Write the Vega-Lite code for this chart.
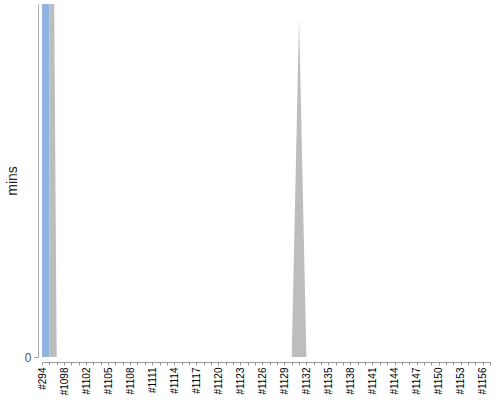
{
  "$schema": "https://vega.github.io/schema/vega-lite/v6.json",
  "autosize": {"type": "none"},
  "padding": {"left": 42, "top": 4, "right": 10, "bottom": 43},
  "width": 448,
  "height": 353,
  "background": "white",
  "config": {"view": {"stroke": null}, "font": "Liberation Sans"},
  "data": {"values": [
    {"build": "#294", "success": 100000, "aborted": 0},
    {"build": "#1096", "success": 0, "aborted": 300},
    {"build": "#1097", "success": 0, "aborted": 0},
    {"build": "#1098", "success": 0, "aborted": 0},
    {"build": "#1099", "success": 0, "aborted": 0},
    {"build": "#1101", "success": 0, "aborted": 0},
    {"build": "#1102", "success": 0, "aborted": 0},
    {"build": "#1103", "success": 0, "aborted": 0},
    {"build": "#1104", "success": 0, "aborted": 0},
    {"build": "#1105", "success": 0, "aborted": 0},
    {"build": "#1106", "success": 0, "aborted": 0},
    {"build": "#1107", "success": 0, "aborted": 0},
    {"build": "#1108", "success": 0, "aborted": 0},
    {"build": "#1109", "success": 0, "aborted": 0},
    {"build": "#1110", "success": 0, "aborted": 0},
    {"build": "#1111", "success": 0, "aborted": 0},
    {"build": "#1112", "success": 0, "aborted": 0},
    {"build": "#1113", "success": 0, "aborted": 0},
    {"build": "#1114", "success": 0, "aborted": 0},
    {"build": "#1115", "success": 0, "aborted": 0},
    {"build": "#1116", "success": 0, "aborted": 0},
    {"build": "#1117", "success": 0, "aborted": 0},
    {"build": "#1118", "success": 0, "aborted": 0},
    {"build": "#1119", "success": 0, "aborted": 0},
    {"build": "#1120", "success": 0, "aborted": 0},
    {"build": "#1121", "success": 0, "aborted": 0},
    {"build": "#1122", "success": 0, "aborted": 0},
    {"build": "#1123", "success": 0, "aborted": 0},
    {"build": "#1124", "success": 0, "aborted": 0},
    {"build": "#1125", "success": 0, "aborted": 0},
    {"build": "#1126", "success": 0, "aborted": 0},
    {"build": "#1127", "success": 0, "aborted": 0},
    {"build": "#1128", "success": 0, "aborted": 0},
    {"build": "#1129", "success": 0, "aborted": 0},
    {"build": "#1130", "success": 0, "aborted": 0},
    {"build": "#1131", "success": 0, "aborted": 96},
    {"build": "#1132", "success": 0, "aborted": 0},
    {"build": "#1133", "success": 0, "aborted": 0},
    {"build": "#1134", "success": 0, "aborted": 0},
    {"build": "#1135", "success": 0, "aborted": 0},
    {"build": "#1136", "success": 0, "aborted": 0},
    {"build": "#1137", "success": 0, "aborted": 0},
    {"build": "#1138", "success": 0, "aborted": 0},
    {"build": "#1139", "success": 0, "aborted": 0},
    {"build": "#1140", "success": 0, "aborted": 0},
    {"build": "#1141", "success": 0, "aborted": 0},
    {"build": "#1142", "success": 0, "aborted": 0},
    {"build": "#1143", "success": 0, "aborted": 0},
    {"build": "#1144", "success": 0, "aborted": 0},
    {"build": "#1145", "success": 0, "aborted": 0},
    {"build": "#1146", "success": 0, "aborted": 0},
    {"build": "#1147", "success": 0, "aborted": 0},
    {"build": "#1148", "success": 0, "aborted": 0},
    {"build": "#1149", "success": 0, "aborted": 0},
    {"build": "#1150", "success": 0, "aborted": 0},
    {"build": "#1151", "success": 0, "aborted": 0},
    {"build": "#1152", "success": 0, "aborted": 0},
    {"build": "#1153", "success": 0, "aborted": 0},
    {"build": "#1154", "success": 0, "aborted": 0},
    {"build": "#1155", "success": 0, "aborted": 0},
    {"build": "#1156", "success": 0, "aborted": 0},
    {"build": "#1157", "success": 0, "aborted": 0}
  ]},
  "transform": [{"fold": ["success", "aborted"], "as": ["status", "mins"]}],
  "mark": {"type": "area", "clip": true, "interpolate": "linear"},
  "encoding": {
    "x": {
      "field": "build", "type": "nominal", "sort": null,
      "scale": {"type": "point", "padding": 0},
      "axis": {
        "title": null, "offset": 5, "labelAngle": -90, "labelFontSize": 10,
        "labelColor": "#000", "labelPadding": 2, "tickSize": 3, "tickColor": "#999",
        "domainColor": "#999", "labelOverlap": false, "grid": false,
        "labelExpr": "indexof(['#294','#1098','#1102','#1105','#1108','#1111','#1114','#1117','#1120','#1123','#1126','#1129','#1132','#1135','#1138','#1141','#1144','#1147','#1150','#1153','#1156'], datum.value) >= 0 ? datum.label : ''"
      }
    },
    "y": {
      "field": "mins", "type": "quantitative", "stack": "zero",
      "scale": {"domain": [0, 100], "nice": false, "zero": true},
      "axis": {
        "title": "mins", "offset": 4, "values": [0], "grid": false,
        "tickSize": 4, "tickColor": "#999", "domainColor": "#aaa",
        "labelFontSize": 12, "labelColor": "#555", "labelPadding": 3,
        "titleFontSize": 14, "titleFontWeight": "normal", "titleColor": "#222",
        "titlePadding": 5
      }
    },
    "color": {
      "field": "status", "type": "nominal",
      "scale": {"domain": ["success", "aborted"], "range": ["#8fb3de", "#bdbdbd"]},
      "legend": null
    },
    "order": {"field": "status", "sort": "descending"}
  }
}
